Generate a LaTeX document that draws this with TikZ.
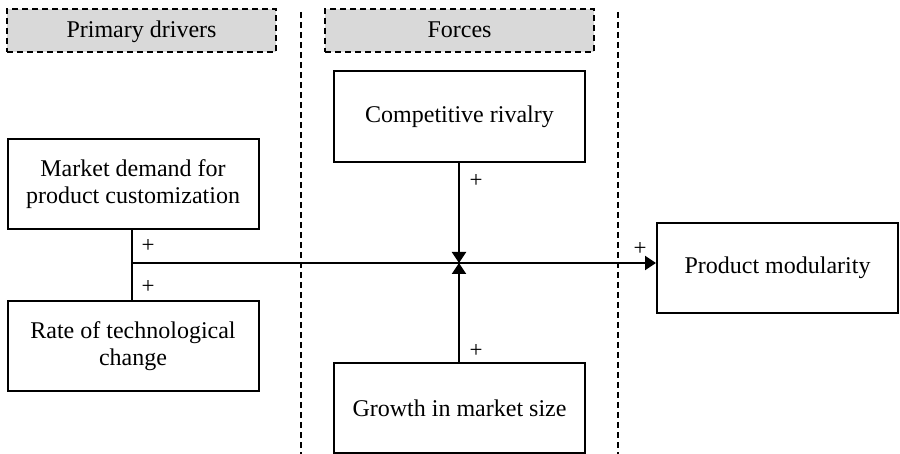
\documentclass[tikz,border=0pt]{standalone}
\usepackage{fontspec}
\setmainfont{Liberation Serif}
\usetikzlibrary{arrows.meta}

\tikzset{
  factor/.style={draw, line width=1pt, align=center, inner sep=0pt,
    minimum width=125.5pt, font=\fontsize{12}{13.8}\selectfont},
  header/.style={draw, dashed, dash pattern=on 3pt off 2pt, line width=0.9pt,
    fill=black!15, inner sep=0pt, minimum width=134.5pt, minimum height=21.5pt,
    text height=8pt, text depth=1pt, font=\fontsize{12}{14}\selectfont},
  sign/.style={inner sep=0pt, font=\fontsize{11.5}{12}\selectfont},
  link/.style={line width=1pt},
  effect/.style={line width=1pt, -{Triangle[length=5.5pt,width=7pt]}},
  divider/.style={line width=0.9pt, dash pattern=on 3pt off 2pt}
}

\begin{document}
\begin{tikzpicture}[x=0.5pt, y=-0.5pt]
        \useasboundingbox (0,0) rectangle (900,454);

        % Column headers and dividers
        \node[header] (drivers) at (141.5,30.5) {Primary drivers};
        \node[header] (forces) at (459.5,30.5) {Forces};
        \draw[divider] (301,12) -- (301,454);
        \draw[divider] (618,12) -- (618,454);

        % Primary drivers
        \node[factor, minimum height=45pt] (demand) at (133,184) {Market demand for\\product customization};
        \node[factor, minimum height=45pt] (rate) at (133,346) {Rate of technological\\change};

        % Forces
        \node[factor, minimum height=45.5pt] (rivalry) at (459.5,116.5) {Competitive rivalry};
        \node[factor, minimum height=45pt] (growth) at (459.5,408) {Growth in market size};

        % Outcome
        \node[factor, minimum width=120.5pt, minimum height=45pt] (modularity) at (777.5,268) {Product modularity};

        % Connectors
        \coordinate (join) at (132,263);
        \coordinate (hub) at (459,263);
        \draw[link] (demand.south -| join) -- (rate.north -| join);
        \draw[link] (join) -- (hub);
        \draw[effect] (rivalry.south -| hub) -- (hub);
        \draw[effect] (growth.north -| hub) -- (hub);
        \draw[effect] (hub) -- (modularity.west |- hub);

        % Signs
        \node[sign] (s1) at (148,246) {+};
        \node[sign] (s2) at (148,287) {+};
        \node[sign] (s3) at (476,181) {+};
        \node[sign] (s4) at (476,351) {+};
        \node[sign] (s5) at (640,249) {+};
\end{tikzpicture}
\end{document}
